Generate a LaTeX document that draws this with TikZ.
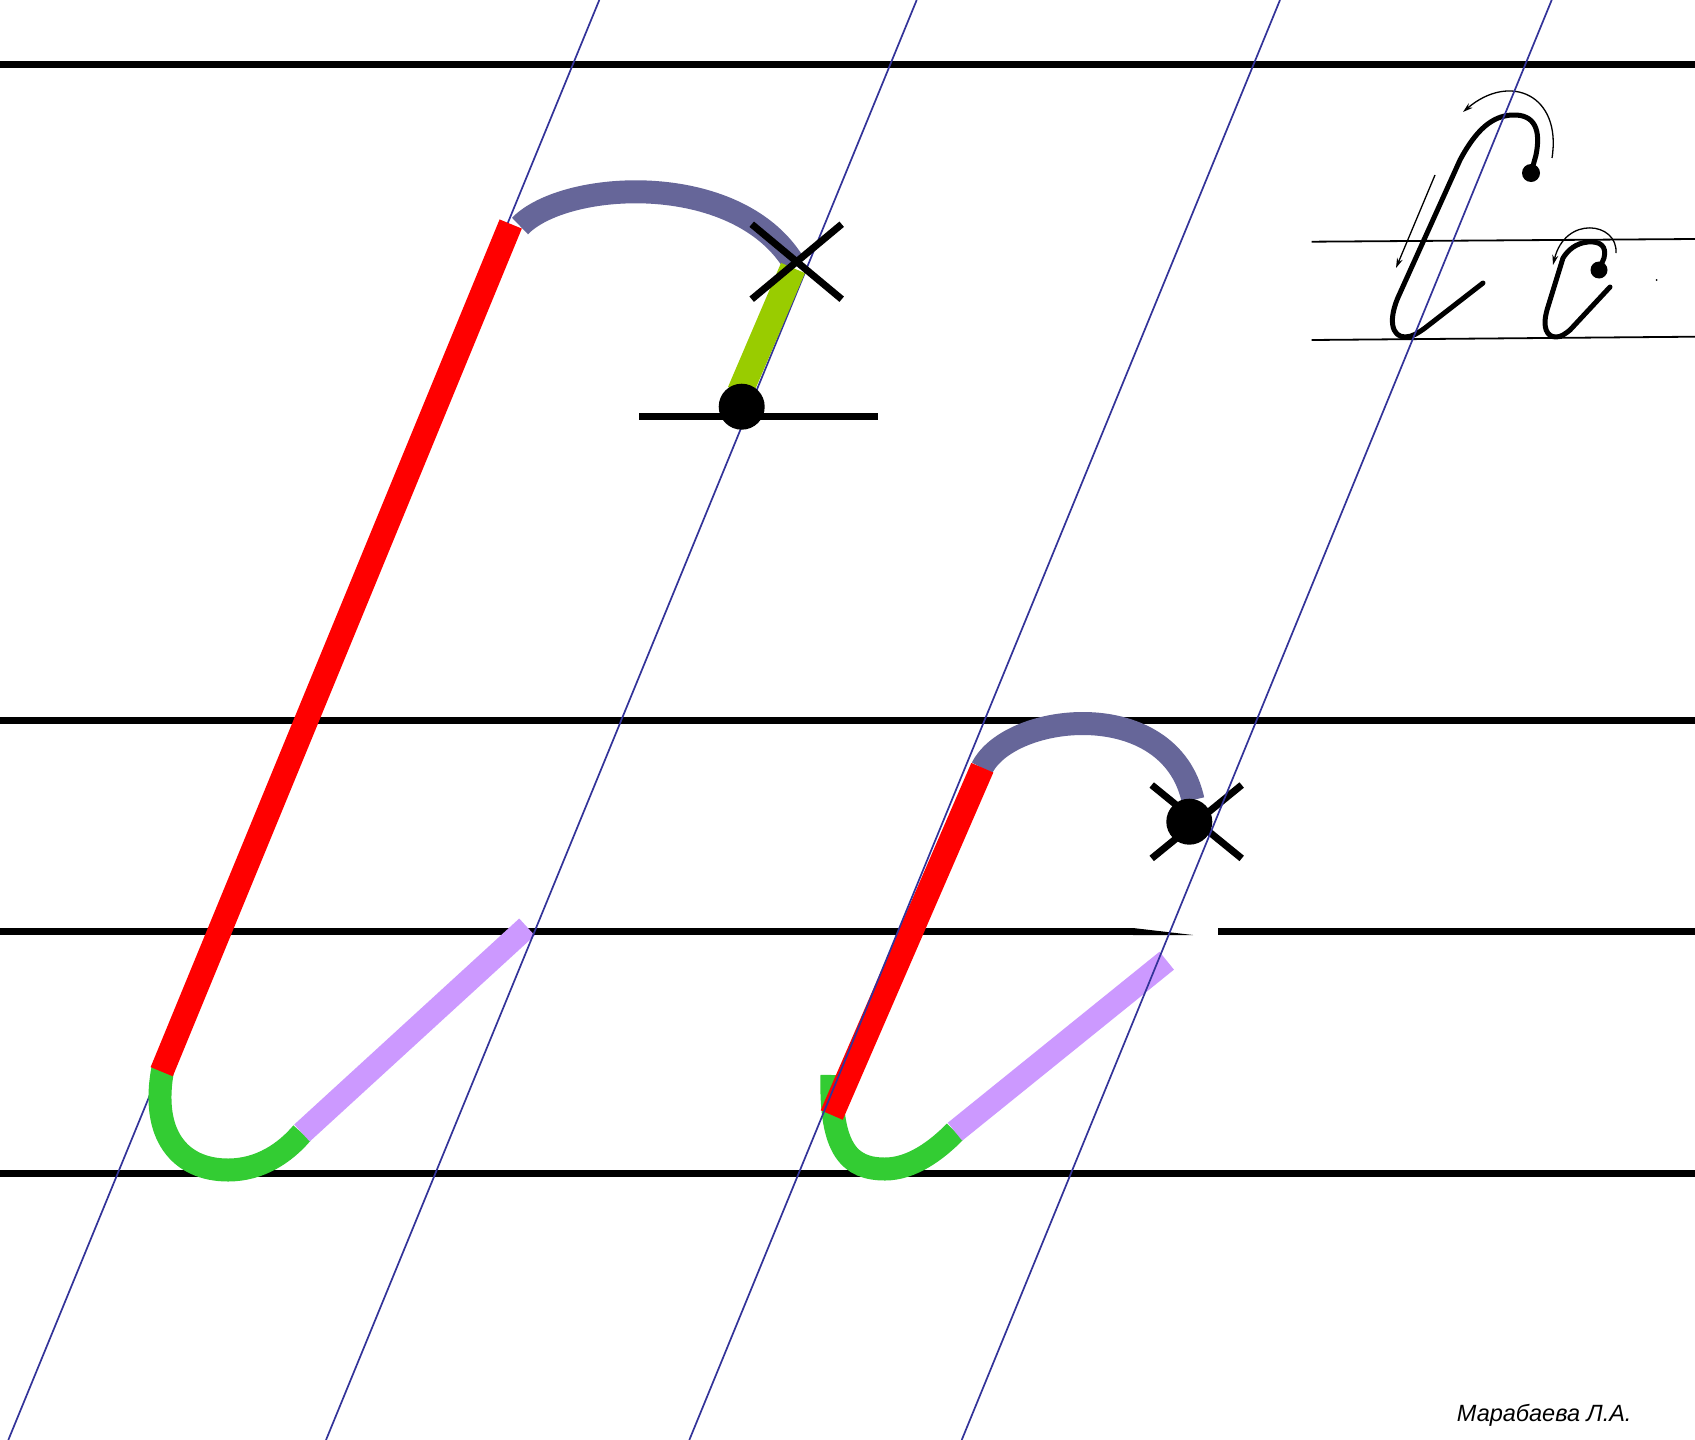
\documentclass[tikz,border=0pt]{standalone}
\usepackage{fontspec}
\newfontfamily\authorfont{Liberation Sans}
\usetikzlibrary{arrows.meta,calc}
\definecolor{guideblue}{HTML}{333399}
\definecolor{archgrey}{HTML}{666699}
\definecolor{stemred}{HTML}{FF0000}
\definecolor{hookgreen}{HTML}{33CC33}
\definecolor{taillilac}{HTML}{CC99FF}
\definecolor{tiplime}{HTML}{99CC00}

\begin{document}
\begin{tikzpicture}[
  x=1pt, y=-1pt,
  rule/.style={draw=black, line width=7pt},
  thinrule/.style={draw=black, line width=1.8pt},
  guide/.style={draw=guideblue, line width=1.7pt},
  arch/.style={draw=archgrey, line width=23pt},
  stem/.style={draw=stemred, line width=24pt},
  hook/.style={draw=hookgreen, line width=23pt},
  tail/.style={draw=taillilac, line width=23pt},
  tip/.style={draw=tiplime, line width=26pt},
  cross/.style={draw=black, line width=7pt},
  pen/.style={draw=black, line width=5pt, line cap=round, line join=round},
  penarrow/.style={draw=black, line width=1.3pt,
                   -{Stealth[length=10pt, width=6pt]}}
]
\useasboundingbox (0,0) rectangle (1695,1440);
\fill[white] (0,0) rectangle (1695,1440);

% ---------- Ruling ----------
\draw[rule] (0,64) -- (1695,64);
\draw[rule] (0,720) -- (1695,720);
\draw[rule] (0,931.5) -- (1133,931.5);
\fill (1133,928) -- (1193,935) -- (1133,935) -- cycle;
\draw[rule] (1218,931.5) -- (1695,931.5);
\draw[rule] (0,1173) -- (1695,1173);

% first slant guide lies under the big letter
\draw[guide] (599.3,0) -- (8.3,1440);

% ---------- Big letter ----------
\coordinate (rtop1) at (510.7,224);
\coordinate (rbot1) at (161.7,1071.7);
\coordinate (hend1) at (302,1133);
\coordinate (ttop1) at (527,927);
\coordinate (aend1) at (793,262);
\coordinate (dot1) at (741.7,406.7);
\coordinate (cross1) at (796.7,261.7);

\draw[arch] (520,226) .. controls (565,180) and (735,170) .. (aend1);
\draw[hook] (163,1068) .. controls (150,1135) and (180,1170) .. (228,1170)
  .. controls (260,1170) and (285,1153) .. (hend1);
\draw[tail] (hend1) -- (ttop1);
\draw[stem] (rtop1) -- (rbot1);

% ---------- Small letter ----------
\coordinate (rtop2) at (982.3,767.7);
\coordinate (rbot2) at (831.7,1115);
\coordinate (hend2) at (955,1131.7);
\coordinate (ttop2) at (1166.7,960.7);
\coordinate (aend2) at (1193,800);
\coordinate (dot2) at (1189.3,821.7);
\coordinate (cross2) at (1196.7,821.7);

\draw[arch] (982,768) .. controls (1010,712) and (1170,695) .. (aend2);
\draw[hook] (832,1075) .. controls (830,1150) and (850,1169) .. (885,1169)
  .. controls (912,1169) and (937,1150) .. (hend2);
\draw[tail] (hend2) -- (ttop2);
\draw[stem] (rtop2) -- (rbot2);

% ---------- Slant guides ----------
\foreach \gt/\gb in {916.7/326, 1280/689.3}
  \draw[guide] (\gt,0) -- (\gb,1440);

% ---------- Start and end marks ----------
\draw[tip] (793,268) -- (740,392);
\draw[cross] ($(cross1)+(-45,-37.5)$) -- ($(cross1)+(45,37.5)$);
\draw[cross] ($(cross1)+(45,-37.5)$) -- ($(cross1)+(-45,37.5)$);
\draw[rule] (639,416) -- (878,416);
\fill (dot1) circle[radius=23];

\draw[cross] ($(cross2)+(-45,-36.7)$) -- ($(cross2)+(45,36.7)$);
\draw[cross] ($(cross2)+(45,-36.7)$) -- ($(cross2)+(-45,36.7)$);
\fill (dot2) circle[radius=23];

% ---------- Sample ----------
\draw[thinrule] (1311.7,241.7) -- (1695,239);
\draw[thinrule] (1311.7,340) -- (1695,336.7);

\draw[pen] (1531,173) -- (1536,155) .. controls (1541,130) and (1535,114) .. (1512,115)
  .. controls (1492,116) and (1476,130) .. (1460,160) -- (1400,293)
  .. controls (1387,320) and (1392,337) .. (1405,337)
  .. controls (1412,337) and (1418,333) .. (1425,328) -- (1483,283);
\fill (1531,173) circle[radius=9];
\draw[penarrow] (1552,158) .. controls (1562,95) and (1510,72) .. (1463,112);
\draw[penarrow] (1435,175) -- (1396,268);

\draw[pen] (1599,270) -- (1604,258) .. controls (1607,246) and (1600,241) .. (1588,242)
  .. controls (1576,243) and (1568,250) .. (1563,258) -- (1547,310)
  .. controls (1542,328) and (1547,337) .. (1556,337)
  .. controls (1561,337) and (1565,334) .. (1570,330) -- (1610,287);
\fill (1599,270) circle[radius=8.5];
\draw[penarrow] (1616,253) .. controls (1618,222) and (1565,215) .. (1553,265);
\fill (1656.7,280) circle[radius=1];

\draw[guide] (1551.7,0) -- (961.7,1440);

% ---------- Author ----------
\node[anchor=base west, inner sep=0pt, font=\authorfont\itshape\fontsize{23.5}{28}\selectfont]
  (author) at (1456.7,1421.7) {Марабаева Л.А.};
\end{tikzpicture}
\end{document}
